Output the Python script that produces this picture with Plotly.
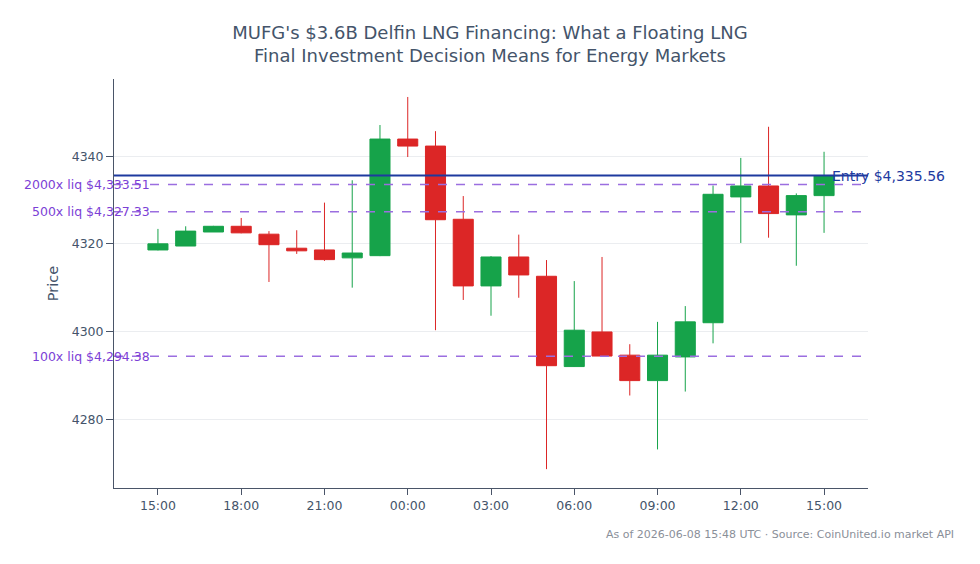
import plotly.graph_objects as go
import pandas as pd

times = pd.date_range("2026-06-07 15:00", periods=25, freq="h")
opens = [4318.6, 4319.5, 4322.7, 4324.0, 4322.2, 4319.0, 4318.6, 4316.8, 4317.3,
         4343.9, 4342.3, 4325.6, 4310.4, 4317.0, 4312.6, 4292.0, 4299.9, 4294.6,
         4288.8, 4294.2, 4302.0, 4330.7, 4333.2, 4326.6, 4331.0]
closes = [4320.0, 4322.9, 4324.0, 4322.5, 4319.8, 4318.4, 4316.4, 4317.9, 4343.9,
          4342.3, 4325.5, 4310.4, 4317.0, 4312.9, 4292.2, 4300.3, 4294.4, 4288.8,
          4294.6, 4302.2, 4331.3, 4333.2, 4326.9, 4331.0, 4335.56]
highs = [4323.4, 4324.0, 4324.1, 4325.9, 4322.9, 4323.1, 4329.4, 4334.5, 4347.1,
         4353.5, 4345.7, 4330.9, 4317.2, 4322.1, 4316.3, 4311.5, 4317.0, 4297.1,
         4302.2, 4305.8, 4333.3, 4339.6, 4346.7, 4331.5, 4341.0]
lows = [4318.5, 4319.5, 4322.7, 4322.4, 4311.3, 4317.7, 4316.1, 4310.0, 4317.2,
        4339.8, 4300.3, 4307.2, 4303.6, 4307.7, 4268.6, 4291.9, 4294.3, 4285.4,
        4273.1, 4286.3, 4297.3, 4320.2, 4321.4, 4315.0, 4322.5]

entry_price = 4335.56
liq_levels = [4333.51, 4327.33, 4294.38]
liq_labels = ["2000x liq $4,333.51", "500x liq $4,327.33", "100x liq $4,294.38"]

GREEN = "#16a34a"
RED = "#dc2626"
TEXT = "#44546a"
AXIS = "#4a5568"

fig = go.Figure()
fig.add_trace(go.Candlestick(
    x=times, open=opens, high=highs, low=lows, close=closes,
    increasing=dict(line=dict(color=GREEN, width=1), fillcolor=GREEN),
    decreasing=dict(line=dict(color=RED, width=1), fillcolor=RED),
    showlegend=False,
))

fig.add_hline(y=entry_price, line=dict(color="#1e3a9f", width=2))
fig.add_annotation(x=0.95, xref="paper", y=entry_price, yref="y",
                   text="Entry $4,335.56", showarrow=False, xanchor="left",
                   yanchor="middle", font=dict(color="#1e3a9f", size=14))
for lvl, lab in zip(liq_levels, liq_labels):
    fig.add_hline(y=lvl, line=dict(color="#9b6ee0", width=1.5, dash="dash"))
    fig.add_annotation(x=0.05, xref="paper", y=lvl, yref="y", text=lab,
                       showarrow=False, xanchor="right", yanchor="middle",
                       font=dict(color="#7c3fd6", size=12.5))

fig.add_annotation(x=1.1167, xref="paper", y=-0.1125, yref="paper", xanchor="right",
                   yanchor="middle", showarrow=False,
                   text="As of 2026-06-08 15:48 UTC · Source: CoinUnited.io market API",
                   font=dict(color="#8a8f99", size=11))

fig.update_layout(
    width=980, height=564,
    margin=dict(l=114, r=112, t=79, b=76),
    paper_bgcolor="white", plot_bgcolor="white",
    font=dict(family="DejaVu Sans", color=TEXT, size=12.5),
    boxgap=0.15, boxgroupgap=0.15,
    title=dict(text="MUFG's $3.6B Delfin LNG Financing: What a Floating LNG<br>Final Investment Decision Means for Energy Markets",
               x=0.5, xanchor="center", y=0.931, yanchor="top",
               font=dict(size=18, color=TEXT)),
    xaxis=dict(rangeslider=dict(visible=False), tickformat="%H:%M",
               showgrid=False, showline=True, linecolor=AXIS, linewidth=1,
               ticks="outside", tickcolor=AXIS, ticklen=6,
               dtick=3 * 3600 * 1000, tick0="2026-06-07 15:00",
               range=["2026-06-07 13:25", "2026-06-08 16:35"]),
    yaxis=dict(title=dict(text="Price", font=dict(size=14.5), standoff=9),
               showgrid=True, gridcolor="#ebedf0",
               showline=True, linecolor=AXIS, linewidth=1,
               ticks="outside", tickcolor=AXIS, ticklen=7,
               dtick=20, zeroline=False, range=[4264.3, 4357.6]),
)

fig.write_html("out.html")
